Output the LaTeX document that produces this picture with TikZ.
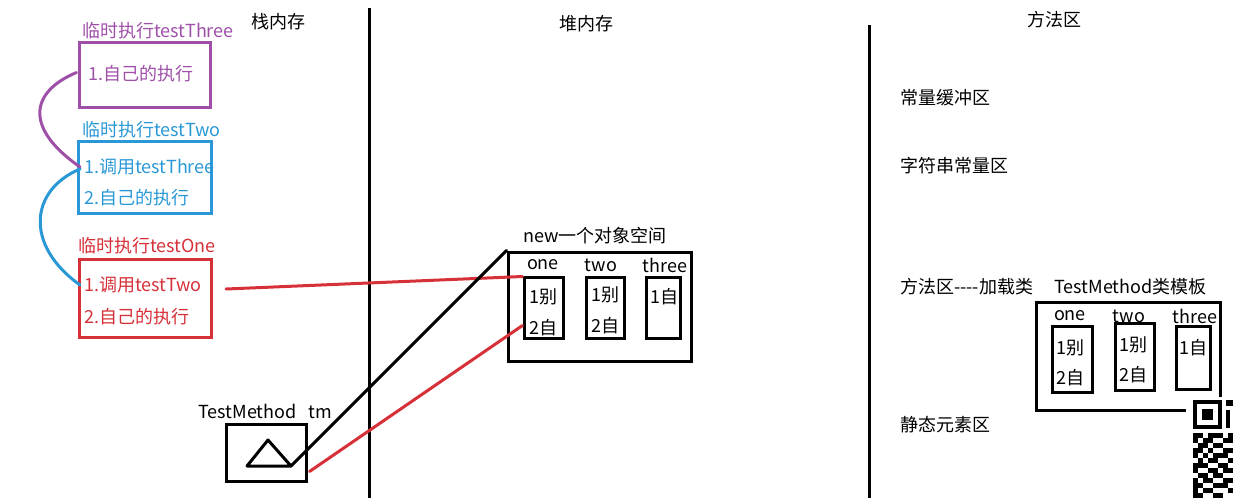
\documentclass[tikz,border=0pt]{standalone}
\usepackage{fontspec}
\setmainfont{Noto Sans CJK SC}
\usetikzlibrary{calc}
\definecolor{cpur}{RGB}{158,80,168}
\definecolor{cblu}{RGB}{42,152,214}
\definecolor{cred}{RGB}{214,48,56}
\begin{document}
\begin{tikzpicture}[x=1pt,y=-1pt,
  txt/.style={inner sep=0pt,font=\fontsize{18}{20}\selectfont},
  wtxt/.style={txt,anchor=west},
  bx/.style={draw=#1,line width=3pt,inner sep=0pt},
  wire/.style={draw=#1,line width=3pt,line cap=round}]
\useasboundingbox (0,0) rectangle (1233,498);
% divider lines
\coordinate (d1t) at (369,8);
\coordinate (d1b) at (369,498);
\coordinate (d2t) at (869,25);
\coordinate (d2b) at (869,498);
\draw[line width=3pt] (d1t) -- (d1b);
\draw[line width=3pt] (d2t) -- (d2b);
% titles
\node[txt] (tstack) at (278,22) {栈内存};
\node[txt] (theap) at (586,24) {堆内存};
\node[txt] (tmeth) at (1054,20) {方法区};
% stack frames
\node[wtxt,text=cpur] (l3) at (82,31) {临时执行testThree};
\node[bx=cpur,minimum width=131pt,minimum height=65pt] (b3) at (144.5,74.5) {};
\node[wtxt,text=cpur] (t3a) at (88,74) {1.自己的执行};
\node[wtxt,text=cblu] (l2) at (82,130) {临时执行testTwo};
\node[bx=cblu,minimum width=133pt,minimum height=72pt] (b2) at (144.5,177) {};
\node[wtxt,text=cblu] (t2a) at (84,167) {1.调用testThree};
\node[wtxt,text=cblu] (t2b) at (84,198) {2.自己的执行};
\node[wtxt,text=cred] (l1) at (78,246) {临时执行testOne};
\node[bx=cred,minimum width=132pt,minimum height=78pt] (b1) at (145,298) {};
\node[wtxt,text=cred] (t1a) at (84,285) {1.调用testTwo};
\node[wtxt,text=cred] (t1b) at (84,317) {2.自己的执行};
% call curves
\draw[wire=cpur] ($(b3.west)+(-1,-2)$) .. controls (30,92) and (24,128) .. ($(t2a.west)+(-4,0)$);
\draw[wire=cblu] ($(t2a.west)+(-4,2)$) .. controls (30,190) and (24,245) .. ($(t1a.west)+(-4,0)$);
% TestMethod tm
\node[wtxt] (tml) at (198,411) {TestMethod\ \ \ tm};
\node[bx=black,minimum width=80pt,minimum height=57pt] (tmb) at (266,452.5) {};
\coordinate (tra) at (247,466);
\coordinate (trb) at (268,440);
\coordinate (trc) at (291,466);
\draw[line width=3pt,line join=round] (tra) -- (trb) -- (trc) -- cycle;
% heap object
\node[wtxt] (newl) at (523,236) {new一个对象空间};
\node[bx=black,minimum width=183pt,minimum height=109pt] (obj) at (599.5,306.5) {};
\node[txt] (on1) at (543,265) {one};
\node[txt] (on2) at (601,265) {two};
\node[txt] (on3) at (665,265) {three};
\node[bx=black,minimum width=39pt,minimum height=61pt] (o1) at (543.5,307.5) {};
\node[bx=black,minimum width=38pt,minimum height=61pt] (o2) at (605,307.5) {};
\node[bx=black,minimum width=34pt,minimum height=61pt] (o3) at (663,307.5) {};
\node[wtxt] (o1a) at (529,297) {1别};
\node[wtxt] (o1b) at (529,328) {2自};
\node[wtxt] (o2a) at (591,295) {1别};
\node[wtxt] (o2b) at (591,326) {2自};
\node[wtxt] (o3a) at (650,297) {1自};
% references
\coordinate (r1s) at (226,289);
\draw[wire=cred] (r1s) -- ($(o1.north west)+(0,1)$);
\draw[wire=cred] ($(tmb.east)+(2,19)$) -- ($(o1.west)+(0,18)$);
\draw[wire=black] (trc) -- (obj.north west);
% method area
\node[wtxt] (m1l) at (900,98) {常量缓冲区};
\node[wtxt] (m2l) at (900,166) {字符串常量区};
\node[wtxt] (m3l) at (900,287) {方法区{-}{-}{-}{-}加载类};
\node[wtxt] (m4l) at (1054,287) {TestMethod类模板};
\node[wtxt] (m5l) at (900,425) {静态元素区};
\coordinate (ma) at (1220,397);
\coordinate (mb) at (1220,302);
\coordinate (mc) at (1036,302);
\coordinate (md) at (1036,410);
\coordinate (me) at (1186,410);
\draw[line width=3pt] (ma) -- (mb) -- (mc) -- (md) -- (me);
\node[txt] (mn1) at (1070,316) {one};
\node[txt] (mn2) at (1129,316) {two};
\node[txt] (mn3) at (1195,316) {three};
\node[bx=black,minimum width=40pt,minimum height=66pt] (m1) at (1072,359) {};
\node[bx=black,minimum width=39pt,minimum height=67pt] (m2) at (1134.5,356.5) {};
\node[bx=black,minimum width=34pt,minimum height=63pt] (m3) at (1193,357.5) {};
\node[wtxt] (m1a) at (1056,348) {1别};
\node[wtxt] (m1b) at (1056,378) {2自};
\node[wtxt] (m2a) at (1119,345) {1别};
\node[wtxt] (m2b) at (1119,375) {2自};
\node[wtxt] (m3a) at (1179,348) {1自};
% QR code fragment
\fill (1193,400) rectangle (1222,429);
\fill[white] (1197,404) rectangle (1218,425);
\fill (1202,409) rectangle (1213,420);
\fill (1226,400) rectangle (1233,406);
\fill (1226,410) rectangle (1230,428);
\foreach \c/\r in {0/0,1/0,3/0,4/0,5/0,7/0,0/1,2/1,3/1,6/1,7/1,1/2,2/2,4/2,5/2,0/3,1/3,3/3,6/3,7/3,0/4,2/4,4/4,5/4,6/4,1/5,3/5,4/5,7/5,0/6,1/6,2/6,5/6,6/6,0/7,3/7,4/7,6/7,7/7,1/8,2/8,4/8,5/8,0/9,2/9,3/9,6/9,7/9,0/10,1/10,4/10,5/10,6/10,0/11,2/11,3/11,7/11,0/12,1/12,4/12,5/12}
  \fill (1193+5*\c,433+5*\r) rectangle +(5,5);
\end{tikzpicture}
\end{document}
